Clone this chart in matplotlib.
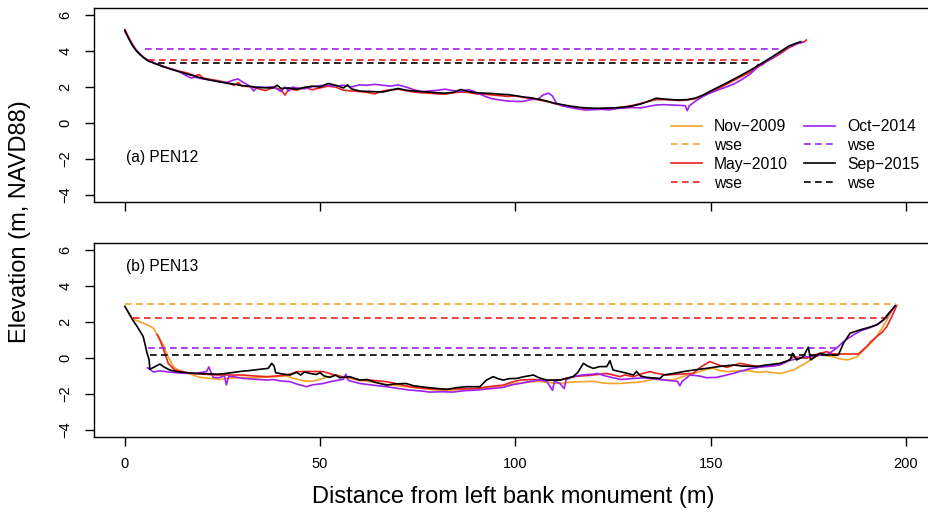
import matplotlib
matplotlib.use("Agg")
import matplotlib.pyplot as plt
from matplotlib import font_manager

# ---------------- data ----------------
# PEN12 (panel a) bed profiles: (distance m, elevation m)
PEN12_MAY2010 = [(0,5.2),(1,4.75),(2,4.35),(3,4.05),(4,3.82),(5,3.62),(6,3.48),(8,3.3),(10,3.15),(12,3.0),(14,2.88),(16,2.78),(18,2.62),(19,2.7),(20,2.5),(22,2.42),(24,2.35),(26,2.25),(28,2.1),(29,2.25),(30,2.05),(32,2.02),(34,1.92),(36,1.8),(38,1.98),(40,1.85),(41,1.55),(42,1.9),(44,1.82),(46,1.98),(48,1.85),(50,1.95),(52,2.05),(54,2.0),(56,1.82),(58,1.78),(60,1.75),(62,1.7),(64,1.62),(66,1.78),(68,1.85),(70,1.88),(72,1.8),(74,1.72),(76,1.68),(78,1.66),(80,1.62),(82,1.6),(84,1.68),(86,1.72),(88,1.7),(90,1.62),(92,1.6),(94,1.56),(96,1.52),(98,1.48),(100,1.5),(102,1.42),(104,1.35),(106,1.28),(108,1.2),(110,1.08),(112,0.98),(114,0.9),(116,0.85),(118,0.8),(120,0.78),(122,0.8),(124,0.82),(126,0.85),(128,0.9),(130,0.98),(132,1.08),(134,1.2),(136,1.3),(138,1.3),(140,1.28),(142,1.25),(144,1.28),(146,1.35),(148,1.48),(150,1.7),(152,1.92),(154,2.15),(156,2.38),(158,2.6),(160,2.82),(162,3.1),(164,3.38),(166,3.62),(168,3.88),(170,4.18),(172,4.4),(174,4.52),(174.5,4.62)]
PEN12_OCT2014 = [(0,5.1),(1,4.7),(2,4.3),(3,4.02),(4,3.8),(5,3.62),(6,3.48),(8,3.3),(10,3.12),(12,3.0),(14,2.85),(16,2.6),(17,2.5),(18,2.55),(19,2.5),(20,2.45),(22,2.38),(24,2.3),(26,2.25),(28,2.4),(29,2.45),(30,2.3),(32,2.05),(33,1.78),(34,2.0),(36,1.98),(38,2.02),(40,1.75),(41,2.0),(42,1.78),(43,2.0),(44,1.95),(46,1.9),(48,2.02),(50,2.08),(52,2.1),(54,2.05),(56,2.1),(58,2.0),(60,2.12),(62,2.1),(64,2.15),(66,2.1),(68,2.05),(70,2.12),(72,2.0),(74,1.85),(76,1.75),(78,1.78),(80,1.82),(82,1.88),(84,1.8),(86,1.75),(88,1.86),(90,1.7),(92,1.5),(94,1.35),(96,1.28),(98,1.22),(100,1.2),(102,1.2),(104,1.3),(106,1.35),(107,1.55),(108.5,1.66),(109.5,1.5),(110.5,1.1),(112,0.95),(114,0.86),(116,0.78),(118,0.72),(120,0.74),(122,0.76),(124,0.73),(126,0.8),(128,0.84),(130,0.86),(132,0.84),(134,0.92),(136,1.0),(138,1.02),(140,1.0),(142,0.98),(143.5,0.96),(144,0.68),(144.5,0.95),(146,1.2),(148,1.48),(150,1.68),(152,1.85),(154,2.0),(156,2.18),(158,2.42),(160,2.7),(161.5,3.0),(162,3.25),(163,3.2),(164,3.38),(166,3.65),(168,3.95),(170,4.25),(172,4.4),(173.5,4.5)]
PEN12_SEP2015 = [(0,5.15),(1,4.7),(2,4.3),(3,4.0),(4,3.78),(5,3.6),(6,3.45),(8,3.28),(10,3.12),(12,2.98),(14,2.85),(16,2.72),(18,2.6),(20,2.48),(22,2.38),(24,2.3),(26,2.22),(28,2.16),(30,2.08),(32,2.04),(34,1.98),(36,1.96),(38,1.95),(39,2.1),(40,1.92),(42,1.95),(44,1.88),(46,1.98),(48,2.05),(50,2.0),(52,2.2),(54,2.1),(56,1.95),(57,2.12),(58,1.9),(60,1.78),(62,1.76),(64,1.74),(66,1.72),(68,1.82),(70,1.92),(72,1.82),(74,1.78),(76,1.74),(78,1.72),(80,1.68),(82,1.66),(84,1.7),(86,1.86),(88,1.75),(90,1.68),(92,1.66),(94,1.64),(96,1.6),(98,1.58),(100,1.52),(102,1.45),(104,1.4),(106,1.32),(108,1.22),(110,1.1),(112,1.02),(114,0.94),(116,0.88),(118,0.84),(120,0.82),(122,0.82),(124,0.83),(126,0.85),(128,0.88),(130,0.95),(132,1.05),(134,1.2),(136,1.38),(138,1.33),(140,1.3),(142,1.28),(144,1.3),(146,1.38),(148,1.55),(150,1.78),(152,2.0),(154,2.22),(156,2.45),(158,2.68),(160,2.92),(162,3.18),(164,3.45),(166,3.72),(168,4.0),(170,4.28),(172,4.45),(173,4.52)]
# PEN12 water surface elevations: (elevation, x start, x end)
PEN12_WSE_MAY2010 = (3.52, 6.0, 163.5)
PEN12_WSE_OCT2014 = (4.13, 5.1, 168.5)
PEN12_WSE_SEP2015 = (3.35, 8.5, 160.0)

# PEN13 (panel b) bed profiles
PEN13_NOV2009 = [(0,2.87),(1,2.5),(2.1,2.16),(4,2.0),(6,1.82),(7.3,1.66),(8.5,1.2),(9.8,0.73),(11,0.1),(12.4,-0.48),(13.5,-0.65),(14.9,-0.76),(17,-0.92),(19.2,-1.08),(21,-1.12),(24.3,-1.19),(27,-1.12),(30.3,-1.08),(33,-1.1),(35.4,-1.08),(38,-1.05),(41.4,-1.0),(43,-1.12),(45.7,-1.27),(48,-1.3),(49.9,-1.19),(52,-1.05),(54.2,-0.95),(56,-1.05),(58,-1.15),(60,-1.25),(62.7,-1.32),(65,-1.4),(67,-1.48),(70,-1.55),(73,-1.62),(76,-1.7),(79,-1.78),(82,-1.8),(85,-1.78),(88,-1.72),(91,-1.7),(94,-1.62),(97,-1.55),(100,-1.42),(103,-1.35),(106,-1.3),(109,-1.38),(111.4,-1.42),(114,-1.35),(117,-1.32),(120,-1.3),(122,-1.38),(124,-1.42),(126.8,-1.42),(129,-1.38),(131,-1.36),(133,-1.3),(135.3,-1.19),(138,-1.2),(140.4,-1.23),(142,-1.1),(144,-0.95),(147.2,-0.76),(149,-0.62),(150.6,-0.58),(152,-0.68),(154.1,-0.76),(157.5,-0.71),(160,-0.72),(162,-0.8),(164.3,-0.76),(166,-0.82),(167.7,-0.86),(169,-0.8),(171.2,-0.67),(173,-0.45),(174.6,-0.26),(176,0.0),(178,0.17),(179.5,0.12),(181.4,0.07),(183,-0.05),(184.9,-0.11),(186,-0.05),(187.5,0.07),(189,0.4),(191,0.82),(192.5,1.2),(193.6,1.56),(195.1,2.12),(196.8,2.78),(197.6,2.95)]
PEN13_MAY2010 = [(8.3,1.3),(8.8,1.1),(9.8,0.54),(10.5,0.1),(11.1,-0.3),(12.8,-0.67),(15,-0.78),(17.5,-0.86),(20,-0.9),(23.5,-0.95),(27,-0.95),(30.3,-0.95),(33,-1.0),(36.3,-1.04),(39,-1.0),(41.4,-0.95),(43,-0.85),(44,-0.76),(47,-0.75),(50.8,-0.76),(53,-0.9),(55.9,-1.08),(58,-1.1),(60.2,-1.23),(62.7,-1.23),(65,-1.28),(67,-1.32),(70,-1.45),(73,-1.6),(76,-1.68),(79,-1.72),(81.5,-1.75),(84,-1.72),(87,-1.72),(90,-1.7),(93,-1.6),(96.9,-1.51),(99,-1.35),(101.2,-1.23),(104.6,-1.2),(108,-1.25),(111.4,-1.23),(114.8,-1.04),(117,-1.0),(119.9,-0.95),(123.4,-0.86),(126.8,-1.04),(128,-0.95),(130.2,-1.04),(132,-0.9),(134.4,-0.76),(136,-0.85),(138.7,-0.95),(142,-0.9),(145.5,-0.86),(147.5,-0.5),(149.8,-0.2),(151.5,-0.35),(154.1,-0.52),(156,-0.4),(157.5,-0.3),(160,-0.4),(162.6,-0.48),(165,-0.45),(167.7,-0.39),(169.5,-0.2),(171.2,0.07),(173,0.02),(174.6,-0.02),(177,0.2),(179.7,0.35),(181.4,0.22),(184,0.22),(187.8,0.22),(189,0.45),(189.9,0.63),(191,0.9),(192.5,1.19),(194,1.45),(195.1,1.75),(196.4,2.31),(197.6,2.9)]
PEN13_OCT2014 = [(5.8,-0.55),(6.4,-0.63),(7.3,-0.78),(9,-0.72),(12,-0.8),(15,-0.85),(18,-0.86),(20.9,-0.76),(21.5,-0.5),(22.6,-1.08),(24,-1.1),(25.5,-1.0),(26,-1.5),(26.6,-1.02),(28,-1.05),(30.3,-1.14),(33,-1.18),(36.3,-1.23),(38,-1.2),(40,-1.28),(42.3,-1.32),(44,-1.45),(46.5,-1.6),(48,-1.5),(50.8,-1.42),(53,-1.3),(55.9,-1.19),(56.6,-0.9),(57.2,-1.25),(60.2,-1.42),(63,-1.5),(67,-1.6),(70,-1.7),(73,-1.79),(76,-1.84),(78,-1.9),(81.5,-1.88),(84,-1.9),(87,-1.82),(90,-1.79),(93,-1.72),(96.9,-1.64),(99,-1.5),(101.2,-1.42),(104,-1.3),(106.3,-1.23),(108,-1.3),(109.5,-1.8),(110,-1.3),(111.4,-1.42),(112.5,-1.7),(113,-1.2),(114.8,-1.04),(117,-0.95),(119.9,-0.9),(121,-0.86),(123,-1.0),(125,-1.1),(127,-1.2),(130.2,-1.14),(133,-1.1),(136,-1.18),(139,-1.25),(141.5,-1.3),(142.1,-1.55),(142.7,-1.3),(144.7,-0.95),(147,-1.0),(149,-1.1),(151.5,-1.08),(153.5,-0.98),(155.8,-0.86),(157,-0.78),(160,-0.6),(163,-0.5),(166,-0.45),(168,-0.35),(170,-0.15),(172,-0.05),(174,0.05),(176,0.1),(178,0.15),(180,0.2),(182.2,0.54),(184,0.91),(186.5,1.28),(188.5,1.52),(191,1.7),(193,1.9),(194.5,2.15),(196,2.55),(197.3,2.9)]
PEN13_SEP2015 = [(0,2.87),(1,2.5),(2,2.12),(3,1.8),(4,1.45),(4.7,1.19),(5.7,0.26),(6.2,-0.1),(6.4,-0.63),(8,-0.45),(9,-0.34),(10,-0.5),(11.5,-0.67),(13,-0.75),(15.8,-0.82),(18,-0.86),(21.8,-0.89),(24,-0.9),(26,-0.86),(28,-0.8),(30.3,-0.73),(32,-0.7),(34.6,-0.63),(36.7,-0.58),(37.6,-0.3),(38.2,-0.45),(38.6,-0.82),(40,-0.88),(42.3,-0.95),(44,-0.8),(45,-0.95),(46,-0.78),(47.4,-0.86),(49,-0.92),(50,-0.82),(51,-1.0),(52.5,-1.08),(54,-0.95),(55,-1.1),(57.6,-1.04),(59,-1.15),(60.2,-1.23),(62,-1.2),(64,-1.35),(67,-1.51),(69,-1.45),(72,-1.42),(74,-1.55),(77.3,-1.64),(80,-1.7),(82.4,-1.75),(85,-1.65),(87.5,-1.6),(90.9,-1.6),(92.6,-1.23),(94.3,-1.04),(95.5,-1.15),(96.9,-1.23),(98.5,-1.15),(100.3,-1.14),(102,-1.05),(104.6,-0.95),(106,-1.1),(108,-1.23),(111.4,-1.23),(114.8,-1.04),(116,-0.8),(117.4,-0.3),(118.5,-0.45),(119.9,-0.58),(121.6,-0.48),(123.4,-0.48),(124.2,-0.15),(125,-0.67),(126.8,-0.76),(128.5,-0.85),(130.2,-0.95),(131,-0.75),(132,-1.0),(133.6,-1.08),(137,-1.14),(137.9,-0.95),(140,-0.88),(143,-0.76),(146,-0.66),(148.9,-0.58),(152,-0.48),(155.8,-0.39),(158,-0.45),(161.7,-0.48),(164,-0.4),(167.7,-0.3),(170.3,-0.11),(171,0.26),(172,-0.11),(173.7,0.07),(175,0.6),(175.6,-0.11),(178,0.26),(179.7,0.17),(182.7,0.17),(184,0.82),(185.7,1.38),(188.2,1.56),(190.5,1.7),(192.5,1.84),(194.2,2.12),(196,2.59),(197.2,2.9)]
PEN13_WSE_NOV2009 = (3.0, 0.0, 197.4)
PEN13_WSE_MAY2010 = (2.22, 2.0, 195.5)
PEN13_WSE_OCT2014 = (0.54, 6.0, 182.2)
PEN13_WSE_SEP2015 = (0.15, 6.4, 182.7)

LEGEND_LABELS = ["Nov\u22122009", "wse", "May\u22122010", "wse",
                 "Oct\u22122014", "wse", "Sep\u22122015", "wse"]
PANEL_LABELS = ["(a) PEN12", "(b) PEN13"]
XTICKS = [0, 50, 100, 150, 200]
YTICKS = [-4, -2, 0, 2, 4, 6]

# ---------------- style ----------------
C_ORANGE = "#F2A42C"
C_RED = "#E8221E"
C_PURPLE = "#A020F0"
C_BLACK = "#000000"

FONT = "Liberation Sans"
def has_font(name):
    try:
        font_manager.findfont(name, fallback_to_default=False)
        return True
    except Exception:
        return False
TICKFONT = "Liberation Sans Narrow" if has_font("Liberation Sans Narrow") else FONT

plt.rcParams["font.family"] = [FONT, "DejaVu Sans"]

W, H = 929, 521
fig = plt.figure(figsize=(W / 100, H / 100), dpi=100)

def fx(px):
    return px / W
def fy(py):
    return 1 - py / H

ax1 = fig.add_axes([fx(94), fy(202), fx(929) - fx(94), fy(8) - fy(202)])
ax2 = fig.add_axes([fx(94), fy(437), fx(929) - fx(94), fy(243) - fy(437)])

LW = 1.2
DASH = (0, (4.0, 2.6))

def bed(ax, pts, color):
    xs = [p[0] for p in pts]
    ys = [p[1] for p in pts]
    return ax.plot(xs, ys, color=color, lw=LW, solid_joinstyle="round")[0]

def wse(ax, w, color):
    return ax.plot([w[1], w[2]], [w[0], w[0]], color=color, lw=LW, linestyle=DASH)[0]

# panel a
bed(ax1, PEN12_MAY2010, C_RED)
wse(ax1, PEN12_WSE_MAY2010, C_RED)
bed(ax1, PEN12_OCT2014, C_PURPLE)
wse(ax1, PEN12_WSE_OCT2014, C_PURPLE)
bed(ax1, PEN12_SEP2015, C_BLACK)
wse(ax1, PEN12_WSE_SEP2015, C_BLACK)

# panel b
h = []
h.append(bed(ax2, PEN13_NOV2009, C_ORANGE))
h.append(wse(ax2, PEN13_WSE_NOV2009, C_ORANGE))
h.append(bed(ax2, PEN13_MAY2010, C_RED))
h.append(wse(ax2, PEN13_WSE_MAY2010, C_RED))
h.append(bed(ax2, PEN13_OCT2014, C_PURPLE))
h.append(wse(ax2, PEN13_WSE_OCT2014, C_PURPLE))
h.append(bed(ax2, PEN13_SEP2015, C_BLACK))
h.append(wse(ax2, PEN13_WSE_SEP2015, C_BLACK))

for ax in (ax1, ax2):
    ax.set_xlim(-7.9, 205.9)
    ax.set_ylim(-4.4, 6.4)
    ax.set_xticks(XTICKS)
    ax.set_yticks(YTICKS)
    ax.set_yticklabels([str(v).replace("-", "\u2212") for v in YTICKS],
                       rotation=90, va="center", family=TICKFONT, fontsize=10.5)
    ax.tick_params(axis="both", direction="out", length=6.5, width=1.0, color="black")
    ax.tick_params(axis="x", pad=8)
    ax.tick_params(axis="y", pad=9)
    for s in ax.spines.values():
        s.set_linewidth(1.0)
        s.set_color("black")

ax1.set_xticklabels([])
ax2.set_xticklabels([str(v) for v in XTICKS], family=TICKFONT, fontsize=10.5)

ax1.text(0.2, -1.9, PANEL_LABELS[0], fontsize=11.2, ha="left", va="center")
ax2.text(0.2, 5.08, PANEL_LABELS[1], fontsize=11.2, ha="left", va="center")

fig.legend(h, LEGEND_LABELS, ncol=2, frameon=False, loc="upper left",
           bbox_to_anchor=(fx(671), fy(119)), borderpad=0, borderaxespad=0,
           fontsize=11.3, handlelength=2.0, handletextpad=0.75,
           columnspacing=1.0, labelspacing=0.25)

fig.text(fx(513), fy(497), "Distance from left bank monument (m)",
         fontsize=17, ha="center", va="center")
fig.text(fx(20), fy(222), "Elevation (m, NAVD88)", fontsize=17,
         ha="center", va="center", rotation=90)

fig.savefig("out.png", dpi=100)
